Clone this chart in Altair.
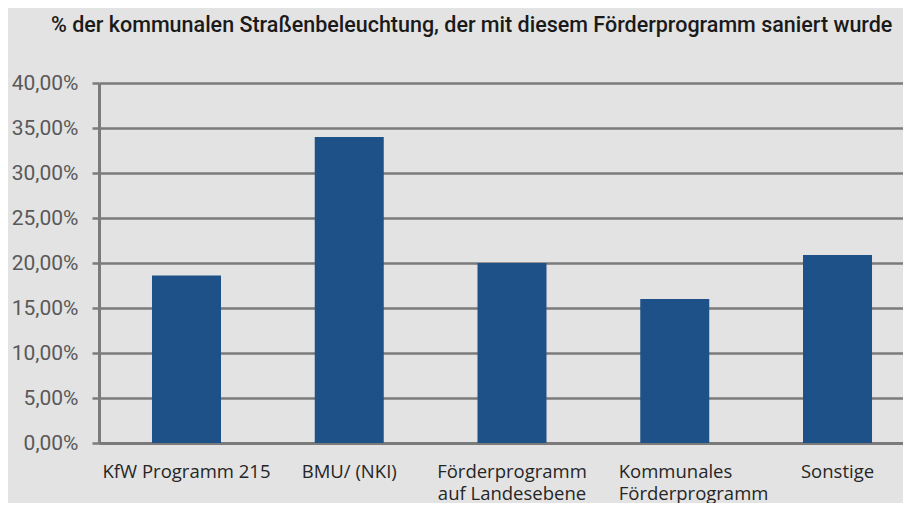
import altair as alt
import pandas as pd

categories = [
    "KfW Programm 215",
    "BMU/ (NKI)",
    "Förderprogramm\nauf Landesebene",
    "Kommunales\nFörderprogramm",
    "Sonstige",
]
values = [18.6, 34.0, 20.0, 16.0, 20.9]
y_ticks = [0, 5, 10, 15, 20, 25, 30, 35, 40]
title_text = "% der kommunalen Straßenbeleuchtung, der mit diesem Förderprogramm saniert wurde"

df = pd.DataFrame({"cat": categories, "val": values})

bg = "#e3e3e3"
grid_col = "#7b7b7b"

chart = (
    alt.Chart(df)
    .mark_bar(color="#1f5189")
    .encode(
        x=alt.X(
            "cat:N",
            sort=None,
            title=None,
            scale=alt.Scale(paddingInner=0.576, paddingOuter=0.258, align=0.631),
            axis=alt.Axis(
                labelAngle=0,
                labelExpr="split(datum.label, '\\n')",
                labelFont="Open Sans",
                labelFontSize=18.5,
                labelColor="#262626",
                labelLineHeight=22,
                labelPadding=19,
                labelLimit=300,
                ticks=False,
                domainColor=grid_col,
                domainWidth=3,
                grid=False,
                labelAlign=alt.condition(
                    "indexof(datum.label, 'Kommunales') >= 0",
                    alt.value("left"),
                    alt.value("center"),
                ),
                labelOffset=alt.condition(
                    "indexof(datum.label, 'Kommunales') >= 0",
                    alt.value(-56),
                    alt.value(0),
                ),
            ),
        ),
        y=alt.Y(
            "val:Q",
            title=None,
            scale=alt.Scale(domain=[0, 40]),
            axis=alt.Axis(
                values=y_ticks,
                labelExpr="replace(format(datum.value, '.2f'), '.', ',') + '%'",
                labelFont="Roboto",
                labelFontSize=21,
                labelColor="#595959",
                labelPadding=14,
                tickSize=7,
                tickColor=grid_col,
                tickWidth=2.5,
                domainColor=grid_col,
                domainWidth=3,
                grid=True,
                gridColor=grid_col,
                gridWidth=2.5,
            ),
        ),
    )
    .properties(
        width=804,
        height=360,
        background=bg,
        autosize=alt.AutoSizeParams(type="none"),
        padding={"left": 91, "top": 75, "right": 0, "bottom": 60},
        title=alt.TitleParams(
            title_text,
            font="Roboto",
            fontSize=21.5,
            fontWeight=500,
            color="#1a1a1a",
            anchor="start",
            frame="group",
            dx=-48,
            baseline="alphabetic",
            offset=19,
        ),
    )
    .configure_view(stroke=None)
)

chart.save("out.html", embed_options={"renderer": "svg", "actions": False})
